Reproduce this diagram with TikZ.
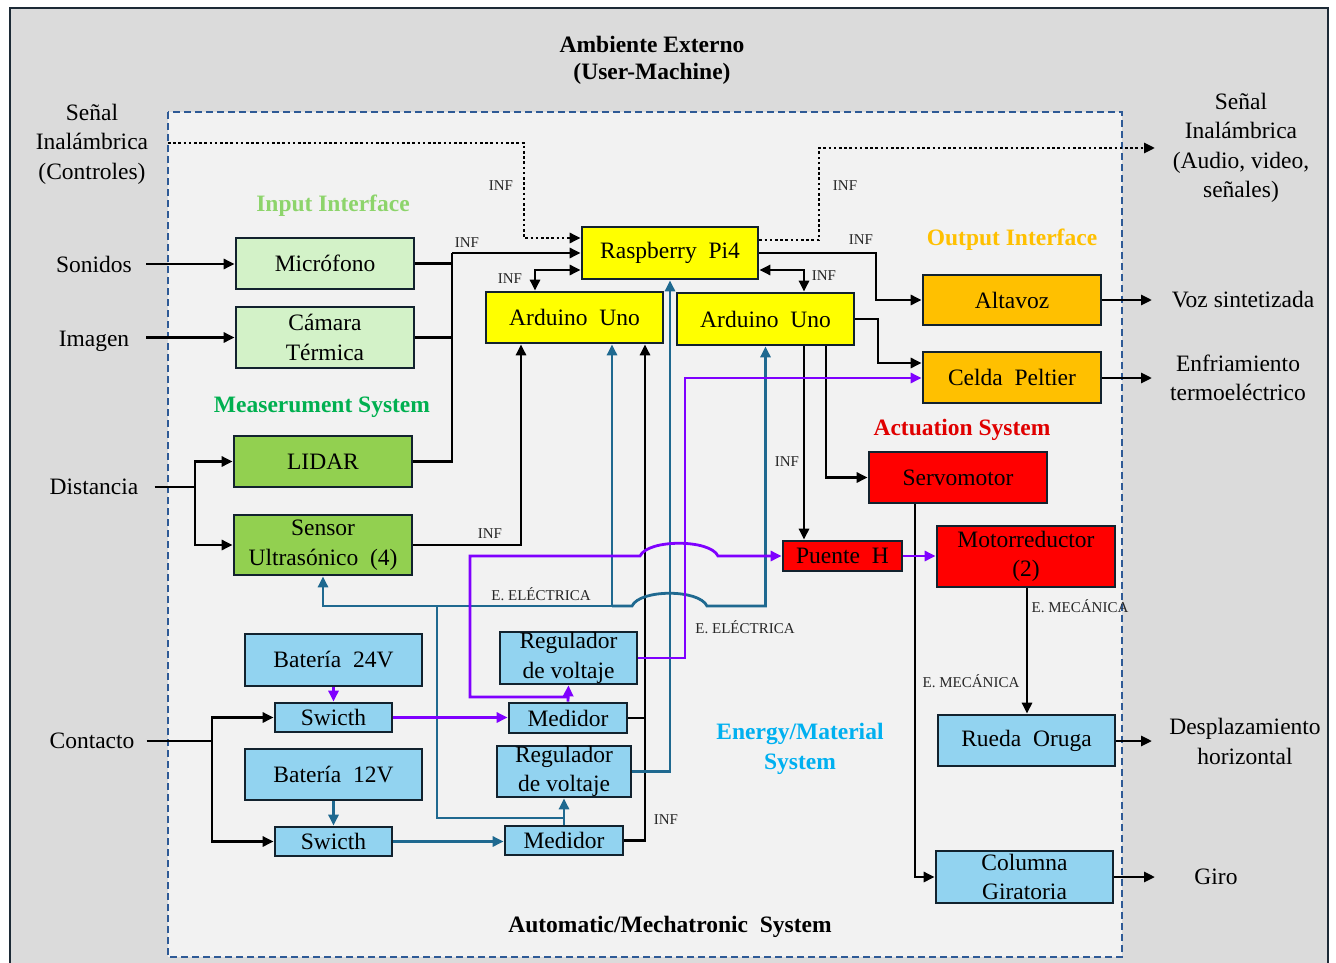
\documentclass[tikz,border=0pt]{standalone}
\usepackage{fontspec}
\setmainfont{Liberation Serif}
\usetikzlibrary{arrows.meta,calc}

\definecolor{outerbg}{HTML}{DBDBDB}
\definecolor{innerbg}{HTML}{F2F2F2}
\definecolor{frame}{HTML}{1C2A36}
\definecolor{dashblue}{HTML}{2E5A96}
\definecolor{boxline}{HTML}{12222E}
\definecolor{lgreen}{HTML}{D3F2C8}
\definecolor{mgreen}{HTML}{92D050}
\definecolor{yel}{HTML}{FFFF00}
\definecolor{orng}{HTML}{FFC000}
\definecolor{rd}{HTML}{FF0000}
\definecolor{lblue}{HTML}{92D3F0}
\definecolor{eline}{HTML}{1F6990}
\definecolor{purp}{HTML}{7F00FF}
\definecolor{inT}{HTML}{8DD46B}
\definecolor{measT}{HTML}{00B050}
\definecolor{actT}{HTML}{E00000}
\definecolor{enT}{HTML}{00B0F0}

\newcommand\bxfont{\fontsize{23.5}{29.5}\selectfont}
\newcommand\smfont{\fontsize{15}{18}\selectfont}
\newcommand\ttlfont{\fontsize{23.5}{30}\selectfont\bfseries}

\tikzset{
  box/.style={draw=boxline, line width=2.7pt, inner sep=0pt, align=center, font=\bxfont, text=black},
  lbl/.style={font=\bxfont, align=center, inner sep=0pt},
  tag/.style={font=\smfont, inner sep=0pt, text=black!85},
  ttl/.style={font=\ttlfont, inner sep=0pt, align=center},
  wire/.style={line width=2.8pt, draw=black},
  tip/.style={-{Triangle[length=11pt,width=10pt]}},
  both/.style={{Triangle[length=11pt,width=10pt]}-{Triangle[length=11pt,width=10pt]}},
  ewire/.style={wire, draw=eline},
  pwire/.style={wire, draw=purp},
  dotw/.style={line width=2.8pt, dash pattern=on 2.6pt off 2.6pt},
}

\begin{document}
\begin{tikzpicture}[x=1pt,y=-1pt]
\useasboundingbox (0,0) rectangle (1336,963);
\clip (0,0) rectangle (1336,963);
\fill[white] (0,0) rectangle (1336,963);

% environment frame and system boundary
\draw[fill=outerbg, draw=frame, line width=2.2pt] (10,8) rectangle (1328,980);
\draw[fill=innerbg, draw=dashblue, line width=2pt, dash pattern=on 7pt off 4pt] (168,112) rectangle (1122,957);

% titles
\node[ttl] (amb) at (652,44) {Ambiente Externo};
\node[ttl] (um) at (652,74) {(User-Machine)};
\node[ttl] (ams) at (670,927) {Automatic/Mechatronic\ \ System};
\node[ttl, text=inT] (tin) at (333,206) {Input Interface};
\node[ttl, text=orng] (tout) at (1012,240) {Output Interface};
\node[ttl, text=measT] (tmeas) at (322,407) {Measerument System};
\node[ttl, text=actT] (tact) at (962,430) {Actuation System};
\node[ttl, text=enT] (ten) at (800,749) {Energy/Material\\System};

% external labels
\node[lbl] (wlin) at (92,144) {Señal\\Inalámbrica\\(Controles)};
\node[lbl] (sonidos) at (94,264) {Sonidos};
\node[lbl] (imagen) at (94,341) {Imagen};
\node[lbl] (dist) at (94,487) {Distancia};
\node[lbl] (contacto) at (92,741) {Contacto};
\node[lbl] (wlout) at (1241,148) {Señal\\Inalámbrica\\(Audio, video,\\señales)};
\node[lbl] (voz) at (1243,300) {Voz sintetizada};
\node[lbl] (enfr) at (1238,378) {Enfriamiento\\termoeléctrico};
\node[lbl] (desp) at (1245,741.5) {Desplazamiento\\horizontal};
\node[lbl] (giro) at (1216,877) {Giro};

% blocks
\node[box, fill=lgreen, minimum width=178pt, minimum height=51pt] (mic) at (325,263.5) {Micrófono};
\node[box, fill=lgreen, minimum width=178pt, minimum height=61pt] (cam) at (325,337.5) {Cámara\\Térmica};
\node[box, fill=mgreen, minimum width=178pt, minimum height=51pt] (lidar) at (323,461.5) {LIDAR};
\node[box, fill=mgreen, minimum width=178pt, minimum height=60pt] (sensor) at (323,545) {Sensor\\Ultrasónico\ \ (4)};
\node[box, fill=yel, minimum width=176pt, minimum height=52pt] (rasp) at (670,253) {Raspberry\ \ Pi4};
\node[box, fill=yel, minimum width=177pt, minimum height=51pt] (ardL) at (574.5,317.5) {Arduino\ \ Uno};
\node[box, fill=yel, minimum width=177pt, minimum height=52pt] (ardR) at (765.5,319) {Arduino\ \ Uno};
\node[box, fill=orng, minimum width=178pt, minimum height=50pt] (altavoz) at (1012,300) {Altavoz};
\node[box, fill=orng, minimum width=178pt, minimum height=51pt] (celda) at (1012,377.5) {Celda\ \ Peltier};
\node[box, fill=rd, minimum width=178pt, minimum height=51pt] (servo) at (958,477.5) {Servomotor};
\node[box, fill=rd, minimum width=119pt, minimum height=30pt] (puente) at (842.5,556) {Puente\ \ H};
\node[box, fill=rd, minimum width=178pt, minimum height=61pt] (motor) at (1026,556.5) {\raisebox{-2pt}{Motorreductor}\\\raisebox{-2pt}{(2)}};
\node[box, fill=lblue, minimum width=177pt, minimum height=51pt] (rueda) at (1026.5,740.5) {Rueda\ \ Oruga};
\node[box, fill=lblue, minimum width=177pt, minimum height=52pt] (columna) at (1024.5,877) {Columna\\Giratoria};
\node[box, fill=lblue, minimum width=177pt, minimum height=52pt] (bat24) at (333.5,660) {Batería\ \ 24V};
\node[box, fill=lblue, minimum width=117pt, minimum height=29pt] (sw24) at (333.5,717.5) {Swicth};
\node[box, fill=lblue, minimum width=177pt, minimum height=51pt] (bat12) at (333.5,774.5) {Batería\ \ 12V};
\node[box, fill=lblue, minimum width=117pt, minimum height=29pt] (sw12) at (333.5,841.5) {Swicth};
\node[box, fill=lblue, minimum width=137pt, minimum height=52pt] (reg24) at (568.5,658) {Regulador\\de voltaje};
\node[box, fill=lblue, minimum width=118pt, minimum height=30pt] (med24) at (568,718) {Medidor};
\node[box, fill=lblue, minimum width=134pt, minimum height=51pt] (reg12) at (564,771.5) {Regulador\\de voltaje};
\node[box, fill=lblue, minimum width=118pt, minimum height=29pt] (med12) at (564,840.5) {Medidor};

% free ends of the outgoing signals
\coordinate (wlinEnd) at (168,143);
\coordinate (wloutEnd) at (1155,148);
\coordinate (vozEnd) at (1152,300);
\coordinate (enfrEnd) at (1152,378);
\coordinate (despEnd) at (1152,741);
\coordinate (giroEnd) at (1155,877);

% information lines (black)
\draw[wire,tip] ([xshift=14pt]sonidos.east) -- (mic.west |- sonidos.east);
\draw[wire,tip] ([xshift=17pt]imagen.east |- cam.west) -- (cam.west);
\coordinate (dsplit) at (195,487);
\draw[wire] ([xshift=16pt]dist.east) -- (dsplit);
\draw[wire,tip] (dsplit) |- (lidar.west);
\draw[wire,tip] (dsplit) |- (sensor.west);

\coordinate (inbus) at (452,253);
\draw[wire] (mic.east) -| (inbus);
\draw[wire] (cam.east) -| (inbus);
\draw[wire] (lidar.east) -| (inbus);
\draw[wire,tip] (inbus) -- (rasp.west |- inbus);

\draw[wire,tip] (sensor.east) -| (ardL.south -| 521,0);
\draw[wire,both] (rasp.west |- 0,270) -| (ardL.north -| 535,0);
\draw[wire,both] (rasp.east |- 0,270) -| (ardR.north -| 804,0);
\draw[wire,tip] (rasp.east) -| (876,300) -- (altavoz.west);
\draw[wire,tip] (ardR.east) -| (878,363) -- (celda.west |- 0,363);
\draw[wire,tip] (ardR.south -| 804,0) -- (puente.north -| 804,0);
\draw[wire,tip] (ardR.south -| 826,0) |- (servo.west);
\draw[wire,tip] (servo.south -| 915,0) |- (columna.west);
\draw[wire,tip] (motor.south -| 1027,0) -- (rueda.north -| 1027,0);

\draw[wire,tip] (altavoz.east) -- (vozEnd);
\draw[wire,tip] (celda.east |- enfrEnd) -- (enfrEnd);
\draw[wire,tip] (rueda.east |- despEnd) -- (despEnd);
\draw[wire,tip] (columna.east) -- (giroEnd);

\coordinate (csplit) at (212,741);
\draw[wire] ([xshift=12pt]contacto.east) -- (csplit);
\draw[wire,tip] (csplit) |- (sw24.west);
\draw[wire,tip] (csplit) |- (sw12.west);

\draw[wire] (med24.east) -- (med24.east -| 645,0);
\draw[wire,tip] (med12.east) -| (ardL.south -| 645,0);

% wireless links (dotted)
\draw[dotw,tip] (wlinEnd) -| (524,238) -- (rasp.west |- 0,238);
\draw[dotw,tip] (rasp.east |- 0,240) -| (819,148) -- (wloutEnd);

% electrical energy, 12 V branch
\draw[ewire,tip] (bat12.south) -- (sw12.north);
\draw[ewire,tip] (sw12.east) -- (med12.west |- sw12.east);
\draw[ewire,tip] (med12.north) -- (reg12.south);
\draw[ewire,tip] (reg12.east) -| (rasp.south);
\draw[ewire] (med12.north |- 0,818) -| (437,606);
\draw[ewire,tip] (437,606) -| (sensor.south);
\draw[ewire,tip] (437,606) -| (ardL.south -| 612,0);
\draw[ewire,tip] (612,606) -- (632,606) .. controls (640,589) and (699,589) .. (707,606) -| (ardR.south);

% electrical energy, 24 V branch
\draw[pwire,tip] (bat24.south) -- (sw24.north);
\draw[pwire,tip] (sw24.east) -- (med24.west |- sw24.east);
\draw[pwire,tip] (med24.north) -- (reg24.south);
\draw[pwire,tip] (med24.north |- 0,697) -| (470,556) -- (640,556) .. controls (648,539) and (710,539) .. (718,556) -- (puente.west);
\draw[pwire,tip] (reg24.east) -| (685,378) -- (celda.west |- 0,378);
\draw[pwire,tip] (puente.east) -- (motor.west |- puente.east);

% connector tags
\node[tag] (t1) at (467,243) {INF};
\node[tag] (t2) at (510,279) {INF};
\node[tag] (t3) at (501,186) {INF};
\node[tag] (t4) at (845,186) {INF};
\node[tag] (t5) at (861,240) {INF};
\node[tag] (t6) at (824,276) {INF};
\node[tag] (t7) at (490,534) {INF};
\node[tag] (t8) at (787,462) {INF};
\node[tag] (t9) at (666,820) {INF};
\node[tag] (e1) at (541,594) {E. ELÉCTRICA};
\node[tag] (e2) at (745,627) {E. ELÉCTRICA};
\node[tag] (m1) at (1080,606) {E. MECÁNICA};
\node[tag] (m2) at (971,681) {E. MECÁNICA};
\end{tikzpicture}
\end{document}
